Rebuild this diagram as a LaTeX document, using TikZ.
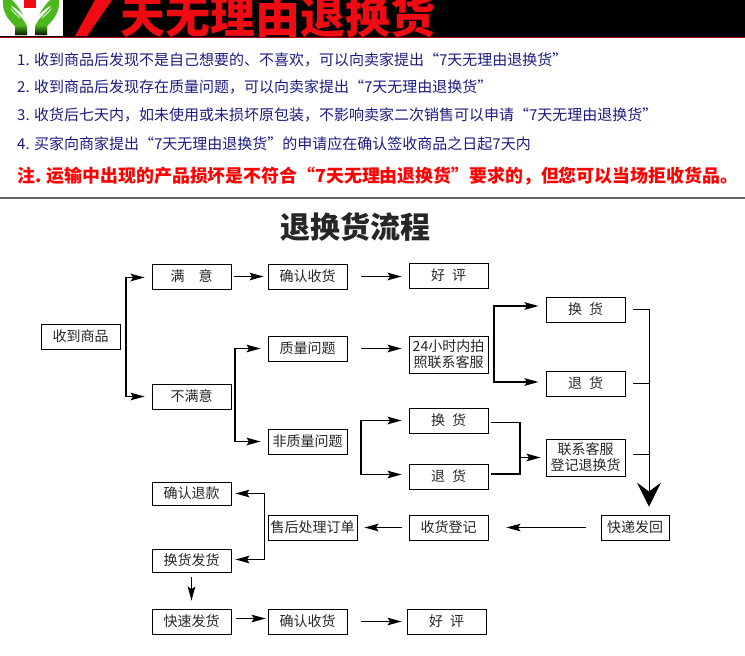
\documentclass[tikz,border=0pt]{standalone}
\usepackage{fontspec}
\setmainfont{Noto Sans CJK SC}
\usepackage{xcolor}
\usetikzlibrary{arrows.meta, positioning, calc}
\definecolor{noteblue}{HTML}{1B1B80}
\definecolor{bannerred}{HTML}{F00A12}
\definecolor{handgreen}{HTML}{4CB81E}
\tikzset{
  stepbox/.style={draw, line width=0.8pt, minimum width=79pt, minimum height=25pt, inner sep=0pt, align=center, font=\fontsize{14}{16}\selectfont, text=black!85},
  tallbox/.style={stepbox, minimum height=37pt, font=\fontsize{14}{16}\selectfont},
  flow/.style={line width=1.7pt, -{Stealth[length=14pt,width=7.5pt,inset=2.5pt]}, shorten >=7pt, shorten <=7pt},
  feed/.style={line width=0.9pt},
  note/.style={anchor=west, inner sep=0pt, text=noteblue, font=\fontsize{15}{17}\selectfont}
}
\newcommand{\gapword}[2]{#1\hspace{7pt}#2}
\begin{document}
\begin{tikzpicture}[x=1pt, y=-1pt]
  \useasboundingbox (0,0) rectangle (745,656);
  \fill[black] (0,0) rectangle (745,37);
  \fill[white] (0,0) rectangle (63,36);
  \fill[bannerred!70!black] (0,36.5) rectangle (745,38);
  \fill[bannerred] (75,36) -- (95,0) -- (112,0) -- (87,36) -- cycle;
  \fill[bannerred] (24,0) rectangle (36,8);
  \foreach \m/\o in {1/0,-1/62}{
    \begin{scope}[xshift=\o pt, xscale=\m]
      \begin{scope}
        \clip (3,0) .. controls (2,10) and (7,19) .. (15,26) -- (15,35) -- (27,35) -- (27,28)
          .. controls (26,20) and (18,15) .. (10,5) .. controls (14,7) and (20,11) .. (23,15)
          .. controls (20,9) and (16,4) .. (12,0) -- cycle;
        \fill[handgreen] (0,0) rectangle (31,36);
        \shade[top color=handgreen, bottom color=black] (0,25) rectangle (31,36);
      \end{scope}
      \draw[green!25!white, line width=1pt, line cap=round] (11,9) .. controls (14,13) and (17,15) .. (20,18);
    \end{scope}
  }
  \begin{scope}
    \clip (112,0) rectangle (745,36);
    \node[inner sep=0pt, anchor=base west, text=bannerred, font=\fontsize{45}{45}\selectfont\bfseries] (banner) at (120,33) {天无理由退换货};
  \end{scope}

  \node[note] (noteA) at (17,60) {1. 收到商品后发现不是自己想要的、不喜欢，可以向卖家提出“7天无理由退换货”};
  \node[note] (noteB) at (17,87) {2. 收到商品后发现存在质量问题，可以向卖家提出“7天无理由退换货”};
  \node[note] (noteC) at (17,115) {3. 收货后七天内，如未使用或未损坏原包装，不影响卖家二次销售可以申请“7天无理由退换货”};
  \node[note] (noteD) at (17,144) {4. 买家向商家提出“7天无理由退换货”的申请应在确认签收商品之日起7天内};
  \node[note, text=red, font=\fontsize{17.9}{20}\selectfont\bfseries] (noteE) at (17,176) {注. 运输中出现的产品损坏是不符合“7天无理由退换货”要求的，但您可以当场拒收货品。};
  \fill[black!60] (0,197) rectangle (745,198.5);

  \node[font=\fontsize{30}{32}\selectfont\bfseries, text=black!85, inner sep=0pt] (title) at (355,227) {退换货流程};

  \node[stepbox] (received) at (80.5,336.5) {收到商品};
  \node[stepbox] (happy) at (191.5,276.5) {满\quad 意};
  \node[stepbox] (unhappy) at (191.5,396.5) {不满意};
  \node[stepbox] (confirmA) at (307.5,276.5) {确认收货};
  \node[stepbox] (reviewA) at (448.5,275.5) {\gapword{好}{评}};
  \node[stepbox] (quality) at (307.5,348.5) {质量问题};
  \node[stepbox] (noquality) at (307.5,441.5) {非质量问题};
  \node[tallbox] (photo) at (448.5,354.5) {24小时内拍\\照联系客服};
  \node[stepbox] (swapA) at (585.5,309.5) {\gapword{换}{货}};
  \node[stepbox] (backA) at (585.5,383.5) {\gapword{退}{货}};
  \node[stepbox] (swapB) at (448.5,420.5) {\gapword{换}{货}};
  \node[stepbox] (backB) at (448.5,476.5) {\gapword{退}{货}};
  \node[tallbox] (contact) at (585.5,457.5) {联系客服\\登记退换货};
  \node[stepbox, minimum width=68pt] (sendback) at (635,527.5) {快递发回};
  \node[stepbox] (register) at (448.5,527.5) {收货登记};
  \node[stepbox, minimum width=89pt] (process) at (312.5,527.5) {售后处理订单};
  \node[stepbox, minimum height=23pt] (refund) at (191.5,493.5) {确认退款};
  \node[stepbox, minimum height=23pt] (reship) at (191.5,560.5) {换货发货};
  \node[stepbox] (express) at (191.5,621.5) {快速发货};
  \node[stepbox] (confirmB) at (307.5,621.5) {确认收货};
  \node[stepbox] (reviewB) at (446.5,621.5) {\gapword{好}{评}};

  \coordinate (trunkA) at (126,336);
  \coordinate (trunkB) at (235,396);
  \coordinate (trunkC) at (494,349);
  \coordinate (trunkD) at (361,449);
  \coordinate (trunkE) at (520,449);
  \coordinate (trunkF) at (649,400);
  \coordinate (trunkG) at (264.5,527);

  \draw[flow, shorten <=0pt] (trunkA) |- ([yshift=-1pt]happy.west);
  \draw[flow, shorten <=0pt] (trunkA) |- (unhappy.west);
  \draw[flow, shorten <=0pt] (trunkB) |- (quality.west);
  \draw[flow, shorten <=0pt] (trunkB) |- (noquality.west);
  \draw[flow, shorten <=3pt, shorten >=4pt] (happy) -- (confirmA);
  \draw[flow, shorten <=14pt] (confirmA) -- (confirmA -| reviewA.west);
  \draw[flow, shorten <=14pt] (quality) -- (quality -| photo.west);
  \draw[flow, shorten <=0pt] (trunkC) |- ([yshift=3.5pt]swapA.west);
  \draw[flow, shorten <=0pt] (trunkC) |- ([yshift=1.5pt]backA.west);
  \draw[flow, shorten <=0pt] (trunkD) |- (swapB.west);
  \draw[flow, shorten <=0pt] (trunkD) |- ([yshift=2pt]backB.west);
  \draw[line width=1.7pt] ([xshift=3pt,yshift=-2pt]swapB.east) -| (trunkE);
  \draw[line width=1.7pt] ([xshift=3pt,yshift=2.5pt]backB.east) -| (trunkE);
  \draw[flow, shorten <=0pt, shorten >=5pt] (trunkE |- contact.west) -- (contact.west);
  \draw[feed] ([xshift=8pt]swapA.east) -| (trunkF);
  \draw[feed] ([xshift=8pt]backA.east) -| (trunkF);
  \draw[feed] ([xshift=8pt,yshift=3.5pt]contact.east) -| (trunkF);
  \draw[feed, -{Stealth[length=24pt,width=24pt,inset=9pt]}, shorten >=8pt] (trunkF) -- (trunkF |- sendback.north);
  \draw[flow, shorten <=15pt, shorten >=18pt] (sendback) -- (register);
  \draw[flow, shorten <=7pt] (register) -- (process);
  \draw[flow, shorten <=0pt, shorten >=4pt] (trunkG) |- (refund.east);
  \draw[flow, shorten <=0pt, shorten >=4pt] (trunkG) |- ([yshift=1pt]reship.east);
  \draw[flow, shorten <=5pt, shorten >=8pt] (reship) -- (express);
  \draw[flow, shorten <=5pt, shorten >=2pt] ([yshift=3pt]express.east) -- ([yshift=3pt]confirmB.west);
  \draw[flow, shorten <=14pt, shorten >=5pt] (confirmB) -- (reviewB);
\end{tikzpicture}
\end{document}
